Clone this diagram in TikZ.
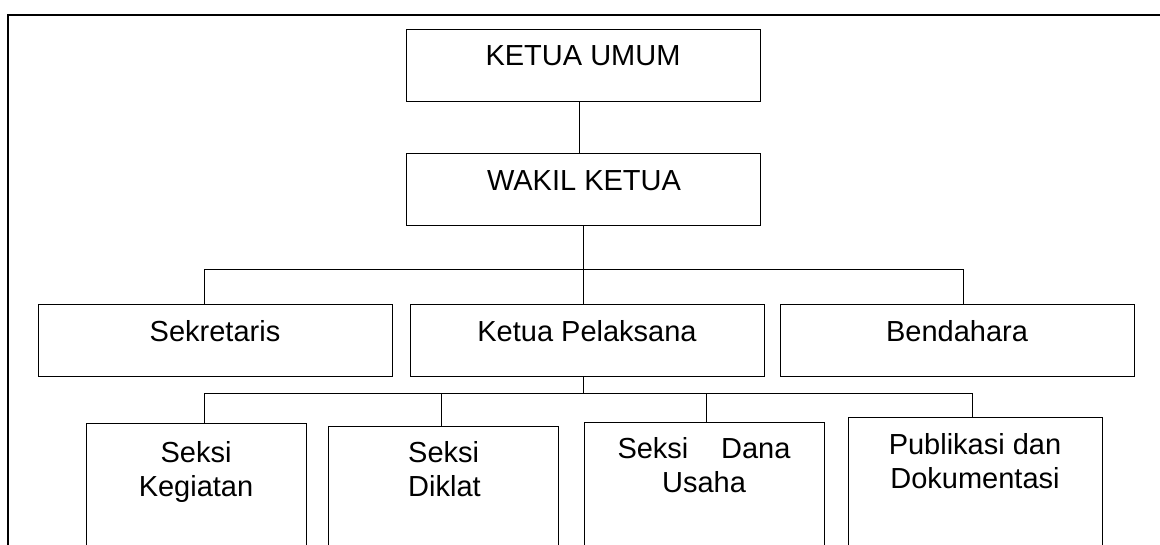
\documentclass[tikz,border=0pt]{standalone}
\usepackage{fontspec}
\setmainfont{Liberation Sans}
\tikzset{
  box/.style={draw, line width=1pt, inner sep=0pt, anchor=north west},
  txt/.style={inner sep=0pt, font=\fontsize{29}{34}\selectfont},
  conn/.style={line width=1pt},
  frameline/.style={line width=2.5pt}
}
\newcommand{\twol}[3]{\renewcommand{\arraystretch}{1}\begin{tabular}[t]{@{}#1@{}}#2\\#3\end{tabular}}
\begin{document}
\begin{tikzpicture}[x=1pt,y=-1pt]
\useasboundingbox (0,0) rectangle (1160,545);
\clip (0,0) rectangle (1160,545);
% frame
\coordinate (fa) at (1170,15);
\coordinate (fb) at (8,15);
\coordinate (fc) at (8,560);
\draw[frameline] (fa) -- (fb) -- (fc);
% boxes
\node[box, minimum width=354, minimum height=72] (ku) at (406,29) {};
\node[box, minimum width=354, minimum height=72] (wk) at (406,153) {};
\node[box, minimum width=354, minimum height=72] (sek) at (38,304) {};
\node[box, minimum width=354, minimum height=72] (kp) at (410,304) {};
\node[box, minimum width=354, minimum height=72] (ben) at (780,304) {};
\node[box, minimum width=220, minimum height=150] (sk) at (86,423) {};
\node[box, minimum width=230, minimum height=150] (sd) at (328,426) {};
\node[box, minimum width=240, minimum height=150] (sdu) at (584,422) {};
\node[box, minimum width=254, minimum height=150] (pd) at (848,417) {};
% texts
\node[txt, anchor=base] (kut) at (583,66) {KETUA UMUM};
\node[txt, anchor=base] (wkt) at (584,191) {WAKIL KETUA};
\node[txt, anchor=base] (sekt) at (215,342) {Sekretaris};
\node[txt, anchor=base] (kpt) at (587,342) {Ketua Pelaksana};
\node[txt, anchor=base] (bent) at (957,342) {Bendahara};
\node[txt, anchor=base] (skt) at (196,462) {\twol{c}{Seksi}{Kegiatan}};
\node[txt, anchor=base west] (sdt) at (408,462) {\twol{l}{Seksi}{Diklat}};
\node[txt, anchor=base] (sdut) at (704,458) {\twol{c}{\makebox[173pt][s]{Seksi\hfill Dana}}{Usaha}};
\node[txt, anchor=base] (pdt) at (975,454) {\twol{c}{Publikasi dan}{Dokumentasi}};
% connectors
\coordinate (b1) at (583,270);
\coordinate (b2) at (583,394);
\draw[conn] ([xshift=-4pt]ku.south) -- ([xshift=-4pt]ku.south |- wk.north);
\draw[conn] (b1 |- wk.south) -- (b1);
\draw[conn] (sek.north -| 204,0) -- (204,270) -- (963,270) -- (ben.north -| 963,0);
\draw[conn] (b1) -- (b1 |- kp.north);
\draw[conn] (b2 |- kp.south) -- (b2);
\draw[conn] (sk.north -| 204,0) -- (204,394) -- (972,394) -- (pd.north -| 972,0);
\draw[conn] (441,394) -- (sd.north -| 441,0);
\draw[conn] (706,394) -- (sdu.north -| 706,0);
\end{tikzpicture}
\end{document}
